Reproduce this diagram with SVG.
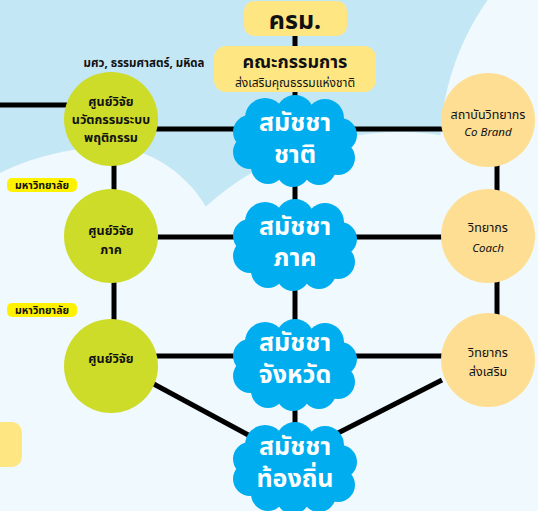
<svg xmlns="http://www.w3.org/2000/svg" width="538" height="511" viewBox="0 0 538 511">
<defs>
<style>
.bg{fill:#c4e7f5}
.pale{fill:#f0f9fd}
.ybox{fill:#fee783}
.green{fill:#cddb29}
.orange{fill:#fede93}
.cloud{fill:#00aeef}
.tag{fill:#fff200}
.ln{stroke:#000;stroke-width:5;fill:none}
text{font-family:"Noto Sans","Noto Sans Thai","DejaVu Sans",sans-serif;text-anchor:middle;fill:#111}
.ct{fill:#fff;font-size:25px;font-weight:bold}
.nt{font-size:12.5px;font-weight:bold}
.en{font-size:11.5px;font-style:italic}
.tg{font-size:10.5px;font-weight:bold}
</style>
<g id="cloudshape">
<ellipse cx="0" cy="0" rx="48" ry="32"/>
<circle cx="-30" cy="-22" r="20"/>
<circle cx="0" cy="-26" r="19"/>
<circle cx="30" cy="-22" r="19"/>
<circle cx="45" cy="-5" r="17"/>
<circle cx="43" cy="18" r="17"/>
<circle cx="24" cy="28" r="17"/>
<circle cx="-2" cy="30" r="17"/>
<circle cx="-27" cy="27" r="17"/>
<circle cx="-45" cy="12" r="17"/>
<circle cx="-45" cy="-8" r="17"/>
</g>
</defs>

<g id="background">
<rect class="bg" x="0" y="0" width="538" height="511"/>
<path class="pale" d="M0,173 C30,158 70,147 110,147 C150,147 190,175 210,214 L210,511 L0,511 Z"/>
<circle class="pale" cx="400" cy="422" r="290"/>
<circle class="pale" cx="700" cy="150" r="260"/>
<rect class="ybox" x="-20" y="422" width="42" height="45" rx="10"/>
</g>

<g id="connectors">
<line class="ln" x1="295" y1="34" x2="295" y2="49"/>
<line class="ln" x1="295" y1="90" x2="295" y2="467"/>
<line class="ln" x1="0" y1="105" x2="68" y2="105"/>
<line class="ln" x1="150" y1="129" x2="445" y2="129"/>
<line class="ln" x1="150" y1="237" x2="445" y2="237"/>
<line class="ln" x1="150" y1="356" x2="445" y2="356"/>
<line class="ln" x1="114" y1="160" x2="114" y2="192"/>
<line class="ln" x1="114" y1="280" x2="114" y2="322"/>
<line class="ln" x1="497" y1="160" x2="497" y2="192"/>
<line class="ln" x1="497" y1="280" x2="497" y2="316"/>
<line class="ln" x1="150" y1="382" x2="252" y2="437"/>
<line class="ln" x1="338" y1="433" x2="442" y2="380"/>
</g>

<g id="n-cabinet">
<rect class="ybox" x="244" y="1" width="103" height="35" rx="10"/>
<text x="295" y="29" style="font-size:25px;font-weight:bold">ครม.</text>
</g>

<g id="n-committee">
<rect class="ybox" x="214" y="46" width="162" height="46" rx="12"/>
<text x="295" y="68" style="font-size:18px;font-weight:bold">คณะกรรมการ</text>
<text x="295" y="87" style="font-size:12px">ส่งเสริมคุณธรรมแห่งชาติ</text>
</g>

<g id="n-uni-label">
<text x="144" y="67" class="nt" style="font-size:11.5px">มศว, ธรรมศาสตร์, มหิดล</text>
</g>

<g id="n-research1">
<circle class="green" cx="111" cy="119" r="47"/>
<text x="111" y="106" class="nt">ศูนย์วิจัย</text>
<text x="111" y="124" class="nt">นวัตกรรมระบบ</text>
<text x="111" y="142" class="nt">พฤติกรรม</text>
</g>

<g id="n-tag1">
<rect class="tag" x="7" y="178" width="70" height="14" rx="5"/>
<text x="42" y="189" class="tg">มหาวิทยาลัย</text>
</g>

<g id="n-research2">
<circle class="green" cx="111" cy="236" r="47"/>
<text x="111" y="235" class="nt">ศูนย์วิจัย</text>
<text x="111" y="254" class="nt">ภาค</text>
</g>

<g id="n-tag2">
<rect class="tag" x="7" y="303" width="70" height="14" rx="5"/>
<text x="42" y="314" class="tg">มหาวิทยาลัย</text>
</g>

<g id="n-research3">
<circle class="green" cx="111" cy="366" r="47"/>
<text x="111" y="363" class="nt">ศูนย์วิจัย</text>
</g>

<g id="n-cobrand">
<circle class="orange" cx="488" cy="120" r="47"/>
<text x="488" y="119" class="nt" style="font-weight:normal">สถาบันวิทยากร</text>
<text x="488" y="136" class="en">Co Brand</text>
</g>

<g id="n-coach">
<circle class="orange" cx="488" cy="236" r="47"/>
<text x="488" y="232" class="nt" style="font-weight:normal">วิทยากร</text>
<text x="488" y="252" class="en">Coach</text>
</g>

<g id="n-promote">
<circle class="orange" cx="488" cy="360" r="47"/>
<text x="488" y="357" class="nt" style="font-weight:normal">วิทยากร</text>
<text x="488" y="376" class="nt" style="font-weight:normal">ส่งเสริม</text>
</g>

<g id="n-national">
<use href="#cloudshape" class="cloud" transform="translate(295,140)"/>
<text x="295" y="131" class="ct">สมัชชา</text>
<text x="295" y="163" class="ct">ชาติ</text>
</g>

<g id="n-regional">
<use href="#cloudshape" class="cloud" transform="translate(295,244)"/>
<text x="295" y="235" class="ct">สมัชชา</text>
<text x="295" y="266" class="ct">ภาค</text>
</g>

<g id="n-province">
<use href="#cloudshape" class="cloud" transform="translate(295,364)"/>
<text x="295" y="351" class="ct">สมัชชา</text>
<text x="295" y="383" class="ct">จังหวัด</text>
</g>

<g id="n-local">
<use href="#cloudshape" class="cloud" transform="translate(295,467)"/>
<text x="295" y="455" class="ct">สมัชชา</text>
<text x="295" y="487" class="ct">ท้องถิ่น</text>
</g>
</svg>
